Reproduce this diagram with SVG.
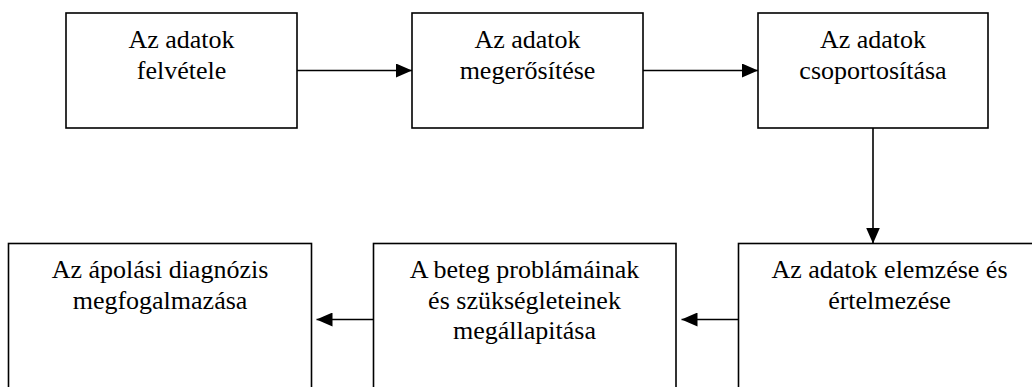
<svg xmlns="http://www.w3.org/2000/svg" width="1032" height="387" viewBox="0 0 1032 387">
<style>
.box{fill:#fff;stroke:#000;stroke-width:1.6}
.t{font-family:'Liberation Serif','Times New Roman',serif;font-size:26px;fill:#000;text-anchor:middle}
.c{stroke:#000;stroke-width:1.6;fill:none}
</style>
<defs>
<marker id="ah" markerUnits="userSpaceOnUse" markerWidth="16" markerHeight="14" refX="16" refY="7" orient="auto">
<path d="M0,0 L16,7 L0,14 Z" fill="#000"/>
</marker>
</defs>
<rect width="1032" height="387" fill="#fff"/>
<g id="n1"><rect class="box" x="66" y="13" width="231" height="115"/>
<text class="t" x="181.5" y="48">Az adatok</text><text class="t" x="181.5" y="78.5">felvétele</text></g>
<g id="n2"><rect class="box" x="412" y="13" width="231" height="115"/>
<text class="t" x="527.5" y="48">Az adatok</text><text class="t" x="527.5" y="78.5">megerősítése</text></g>
<g id="n3"><rect class="box" x="758" y="13" width="230" height="115"/>
<text class="t" x="873" y="48">Az adatok</text><text class="t" x="873" y="78.5">csoportosítása</text></g>
<g id="n4"><rect class="box" x="8.5" y="243.5" width="303" height="200"/>
<text class="t" x="160" y="278">Az ápolási diagnózis</text><text class="t" x="160" y="308.5">megfogalmazása</text></g>
<g id="n5"><rect class="box" x="373.5" y="243.5" width="302.5" height="200"/>
<text class="t" x="524.5" y="278">A beteg problámáinak</text><text class="t" x="524.5" y="308.5">és szükségleteinek</text><text class="t" x="524.5" y="338.8">megállapitása</text></g>
<g id="n6"><rect class="box" x="738.5" y="243.5" width="400" height="200"/>
<text class="t" x="889.5" y="278">Az adatok elemzése és</text><text class="t" x="889.5" y="308.5">értelmezése</text></g>
<g id="connectors">
<line class="c" x1="297" y1="70.5" x2="412" y2="70.5" marker-end="url(#ah)"/>
<line class="c" x1="643" y1="70.5" x2="758" y2="70.5" marker-end="url(#ah)"/>
<line class="c" x1="873" y1="128" x2="873" y2="243.5" marker-end="url(#ah)"/>
<line class="c" x1="738.5" y1="319.5" x2="681.5" y2="319.5" marker-end="url(#ah)"/>
<line class="c" x1="373.5" y1="319.5" x2="316.5" y2="319.5" marker-end="url(#ah)"/>
</g>
</svg>
